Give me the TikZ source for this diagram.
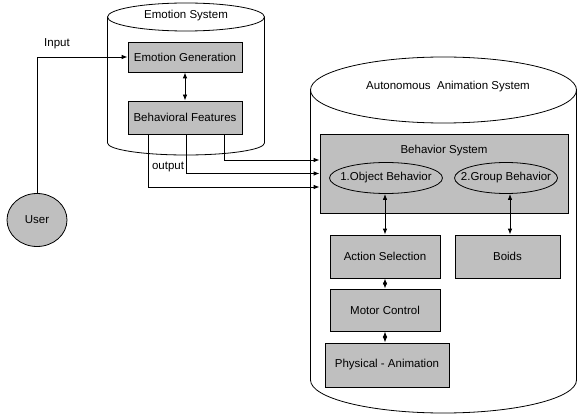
\documentclass[tikz,border=0pt]{standalone}
\usepackage{fontspec}
\setmainfont{Liberation Sans}
\usetikzlibrary{shapes.geometric,arrows.meta}

\begin{document}
\begin{tikzpicture}[x=1pt,y=-1pt,line width=0.8pt,
    every node/.style = {font=\fontsize{11.5}{13}\selectfont},
    box/.style = {draw, fill=gray!50, inner sep=1pt},
    oval/.style = {draw, ellipse, inner xsep=-9pt, inner ysep=1pt},
    link/.style = {-{Latex[length=6pt,width=4.5pt]}},
    twoway/.style = {{Latex[length=6pt,width=4.5pt]}-{Latex[length=6pt,width=4.5pt]}}]
    \useasboundingbox (0,0) rectangle (578,414);

    % emotion system
    \draw (186,17) ellipse [x radius=78.5, y radius=14];
    \draw (107.5,17) -- (107.5,143) arc[start angle=180, end angle=0, x radius=78.5, y radius=12] -- (264.5,17);
    \node (emo) at (186,16) {Emotion System};
    \node[box, minimum width=114pt, minimum height=30pt] (gen) at (185,57) {Emotion Generation};
    \node[box, minimum width=114pt, minimum height=33pt] (feat) at (185,117.5) {Behavioral Features};

    % autonomous animation system
    \draw (443.5,90) ellipse [x radius=133, y radius=33];
    \draw (310.5,90) -- (310.5,380) arc[start angle=180, end angle=0, x radius=133, y radius=33] -- (576.5,90);
    \node (aas) at (448,87) {Autonomous\ \ Animation System};
    \node[box, minimum width=248pt, minimum height=79pt] (bsys) at (444,173.5) {};
    \node (btitle) at (444,151) {Behavior System};
    \node[oval, minimum width=113pt, minimum height=31pt] (obj) at (386,178) {1.Object Behavior};
    \node[oval, minimum width=103pt, minimum height=31pt] (grp) at (506,178) {2.Group Behavior};
    \node[box, minimum width=110pt, minimum height=43pt] (act) at (385,256.5) {Action Selection};
    \node[box, minimum width=105pt, minimum height=43pt] (boids) at (507.5,256.5) {Boids};
    \node[box, minimum width=110pt, minimum height=42pt] (motor) at (385,310) {Motor Control};
    \node[box, minimum width=124pt, minimum height=44pt] (phys) at (387,365) {Physical - Animation};

    % user
    \node[oval, fill=gray!50, inner xsep=1pt, minimum width=60pt, minimum height=53pt] (user) at (37,220) {User};
    \node (input) at (57,44) {Input};
    \node (output) at (168,167) {output};

    \draw[link] (user.north) |- (gen.west);
    \draw[twoway] (gen) -- (feat);
    \draw[link] ([xshift=39pt]feat.south) |- ([yshift=13.5pt]bsys.west);
    \draw[link] ([xshift=1pt]feat.south) |- (bsys.west);
    \draw[link] ([xshift=-37pt]feat.south) |- ([yshift=-13.5pt]bsys.west);
    \draw[twoway] (obj.south -| act.north) -- (act.north);
    \draw[twoway] (grp.south -| 510,0) -- (boids.north -| 510,0);
    \draw[twoway] (act) -- (motor);
    \draw[twoway] (motor.south) -- (motor.south |- phys.north);
\end{tikzpicture}
\end{document}
